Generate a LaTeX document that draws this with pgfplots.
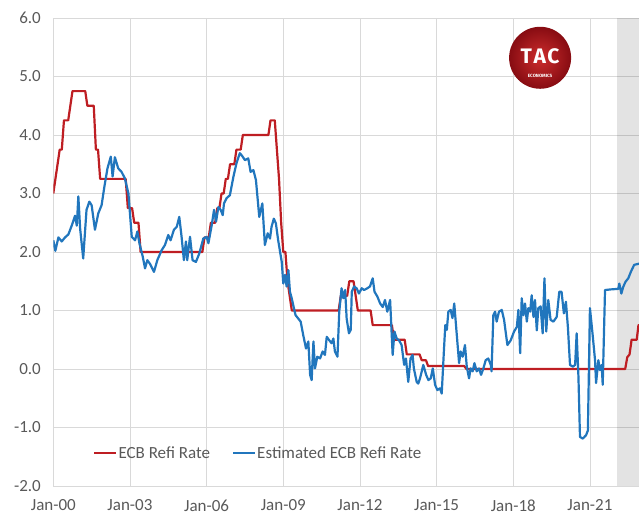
\documentclass[border=0pt]{standalone}
\usepackage{pgfplots}
\pgfplotsset{compat=1.18}
\usepackage{fontspec}
\setmainfont{Carlito}
\newfontfamily\logofont{Fira Sans}

\definecolor{ecbred}{RGB}{190,30,35}
\definecolor{estblue}{RGB}{33,118,189}
\definecolor{labelgray}{RGB}{89,89,89}
\definecolor{gridgray}{RGB}{217,217,217}
\definecolor{logoin}{RGB}{205,45,45}
\definecolor{logoout}{RGB}{135,12,18}

\begin{document}
\begin{tikzpicture}
\useasboundingbox (0,0) rectangle (639bp,516bp);
\begin{axis}[
  at={(53.3bp,30bp)}, anchor=south west,
  scale only axis, width=585.7bp, height=468bp,
  xmin=2000, xmax=2022.92, ymin=-2, ymax=6,
  xtick={2000,2003,2006,2009,2012,2015,2018,2021},
  xticklabels={Jan-00,Jan-03,Jan-06,Jan-09,Jan-12,Jan-15,Jan-18,Jan-21},
  ytick={-2,-1,0,1,2,3,4,5,6},
  yticklabels={-2.0,-1.0,0.0,1.0,2.0,3.0,4.0,5.0,6.0},
  grid=major,
  major grid style={draw=gridgray, line width=0.8bp},
  axis line style={draw=none},
  major tick length=0pt,
  tick label style={font=\fontsize{17bp}{20bp}\selectfont, text=labelgray},
  xticklabel style={yshift=-10bp},
  yticklabel style={xshift=-9bp},
  legend style={at={(0.068,0.07)}, anchor=west, draw=none, fill=none,
    inner sep=0pt, nodes={inner sep=1bp},
    font=\fontsize{17bp}{20bp}\selectfont, text=labelgray,
    /tikz/every even column/.append style={column sep=21bp}},
  legend columns=2,
  legend image code/.code={\draw[#1,line width=2.2bp] (0bp,0bp) -- (22bp,0bp);},
]
% shaded period at the end of the sample
\addplot[draw=none, fill=black, fill opacity=0.11, forget plot]
  coordinates {(2022.07,-2) (2022.07,6) (2022.92,6) (2022.92,-2)} -- cycle;

% ECB main refinancing rate (monthly, change points)
\addplot[ecbred, line width=2.2bp, line join=round] coordinates {
(2000.000,3.00) (2000.083,3.25) (2000.167,3.50) (2000.250,3.75) (2000.333,3.75)
(2000.417,4.25) (2000.583,4.25) (2000.667,4.50) (2000.750,4.75) (2001.250,4.75)
(2001.333,4.50) (2001.583,4.50) (2001.667,3.75) (2001.750,3.75) (2001.833,3.25)
(2002.833,3.25) (2002.917,2.75) (2003.083,2.75) (2003.167,2.50) (2003.333,2.50)
(2003.417,2.00) (2005.833,2.00) (2005.917,2.25) (2006.083,2.25) (2006.167,2.50)
(2006.333,2.50) (2006.417,2.75) (2006.500,2.75) (2006.583,3.00) (2006.667,3.00)
(2006.750,3.25) (2006.833,3.25) (2006.917,3.50) (2007.083,3.50) (2007.167,3.75)
(2007.333,3.75) (2007.417,4.00) (2008.417,4.00) (2008.500,4.25) (2008.667,4.25)
(2008.750,3.75) (2008.833,3.25) (2008.917,2.50) (2009.000,2.00) (2009.083,2.00)
(2009.167,1.50) (2009.250,1.25) (2009.333,1.00) (2011.167,1.00) (2011.250,1.25)
(2011.500,1.25) (2011.583,1.50) (2011.750,1.50) (2011.833,1.25) (2011.917,1.00)
(2012.417,1.00) (2012.500,0.75) (2013.250,0.75) (2013.333,0.50) (2013.750,0.50)
(2013.833,0.25) (2014.333,0.25) (2014.417,0.15) (2014.583,0.15) (2014.667,0.05)
(2016.083,0.05) (2016.167,0.00) (2022.380,0.00) (2022.460,0.20) (2022.550,0.25)
(2022.630,0.50) (2022.830,0.50) (2022.900,0.75) (2022.920,0.75)
};
\addlegendentry{ECB Refi Rate}

% model estimate
\addplot[estblue, line width=2.2bp, line join=round] coordinates {
(2000.00,2.20) (2000.08,2.02) (2000.20,2.25) (2000.33,2.18) (2000.46,2.25)
(2000.59,2.30) (2000.72,2.45) (2000.85,2.62) (2000.92,2.45) (2000.98,2.95)
(2001.05,2.40) (2001.17,1.89) (2001.30,2.72) (2001.41,2.86) (2001.50,2.80)
(2001.63,2.38) (2001.76,2.66) (2001.89,2.80) (2002.00,3.12) (2002.12,3.43)
(2002.25,3.63) (2002.32,3.29) (2002.41,3.62) (2002.54,3.43) (2002.67,3.37)
(2002.80,3.26) (2002.94,3.00) (2003.07,2.26) (2003.20,2.20) (2003.29,2.35)
(2003.37,2.15) (2003.50,1.92) (2003.59,1.72) (2003.68,1.86) (2003.78,1.80)
(2003.94,1.66) (2004.07,1.86) (2004.24,2.03) (2004.37,2.12) (2004.50,2.29)
(2004.59,2.20) (2004.72,2.38) (2004.83,2.43) (2004.93,2.60) (2005.02,2.26)
(2005.11,1.86) (2005.19,2.18) (2005.24,1.86) (2005.35,2.26) (2005.45,1.86)
(2005.58,1.83) (2005.71,1.97) (2005.87,2.23) (2006.00,2.26) (2006.07,2.15)
(2006.20,2.46) (2006.29,2.72) (2006.37,2.52) (2006.46,2.77) (2006.55,2.72)
(2006.63,2.63) (2006.68,2.83) (2006.78,2.92) (2006.91,2.97) (2007.05,3.29)
(2007.17,3.52) (2007.30,3.69) (2007.41,3.63) (2007.50,3.57) (2007.63,3.60)
(2007.72,3.37) (2007.83,3.40) (2007.93,3.23) (2008.06,2.60) (2008.18,2.83)
(2008.28,2.12) (2008.39,2.32) (2008.48,2.23) (2008.54,2.43) (2008.63,2.57)
(2008.71,2.49) (2008.80,2.20) (2008.94,1.83) (2009.00,1.46) (2009.07,1.61)
(2009.13,1.41) (2009.20,1.69) (2009.26,1.32) (2009.33,1.21) (2009.39,1.09)
(2009.48,0.92) (2009.59,0.86) (2009.68,0.81) (2009.78,0.58) (2009.89,0.35)
(2009.98,0.47) (2010.05,-0.10) (2010.11,-0.19) (2010.18,0.47) (2010.24,0.01)
(2010.33,0.21) (2010.44,0.18) (2010.54,0.30) (2010.63,0.24) (2010.70,0.55)
(2010.80,0.49) (2010.89,0.44) (2010.96,0.52) (2011.02,0.30) (2011.12,0.21)
(2011.19,0.98) (2011.28,1.38) (2011.35,1.21) (2011.42,1.35) (2011.48,0.86)
(2011.57,0.61) (2011.64,0.67) (2011.68,1.32) (2011.77,1.41) (2011.87,1.38)
(2011.96,1.29) (2012.07,1.38) (2012.16,1.35) (2012.29,1.38) (2012.39,1.41)
(2012.50,1.55) (2012.57,1.32) (2012.68,1.24) (2012.79,1.12) (2012.89,1.06)
(2012.98,1.18) (2013.07,0.98) (2013.18,1.18) (2013.28,0.24) (2013.35,0.64)
(2013.44,0.52) (2013.53,0.49) (2013.63,0.41) (2013.73,0.07) (2013.80,0.18)
(2013.89,-0.22) (2013.98,0.18) (2014.06,0.24) (2014.11,0.01) (2014.22,-0.22)
(2014.28,-0.25) (2014.35,-0.16) (2014.48,0.07) (2014.59,-0.10) (2014.68,-0.19)
(2014.77,-0.16) (2014.85,0.01) (2014.94,-0.27) (2015.03,-0.36) (2015.13,-0.33)
(2015.20,-0.42) (2015.29,0.35) (2015.34,0.75) (2015.40,0.67) (2015.46,0.98)
(2015.55,1.01) (2015.62,0.87) (2015.69,1.12) (2015.79,0.58) (2015.88,0.10)
(2015.94,0.30) (2016.02,0.21) (2016.11,0.41) (2016.18,0.04) (2016.27,-0.16)
(2016.33,0.01) (2016.41,-0.04) (2016.48,0.10) (2016.57,-0.04) (2016.66,0.01)
(2016.74,-0.10) (2016.83,0.01) (2016.92,0.15) (2017.02,0.18) (2017.12,0.07)
(2017.15,-0.04) (2017.22,0.92) (2017.29,0.98) (2017.35,0.81) (2017.44,0.98)
(2017.55,1.01) (2017.64,0.84) (2017.77,0.41) (2017.90,0.49) (2018.03,0.64)
(2018.14,0.72) (2018.20,1.01) (2018.27,0.27) (2018.33,1.21) (2018.40,0.92)
(2018.46,1.12) (2018.53,0.81) (2018.59,1.04) (2018.66,0.98) (2018.72,1.26)
(2018.79,0.89) (2018.85,1.18) (2018.92,0.66) (2018.98,1.04) (2019.07,1.07)
(2019.15,0.61) (2019.22,1.55) (2019.29,0.64) (2019.37,1.18) (2019.46,0.84)
(2019.57,0.81) (2019.70,0.89) (2019.80,1.32) (2019.89,1.32) (2019.98,0.95)
(2020.06,1.15) (2020.14,0.70) (2020.22,0.07) (2020.33,0.04) (2020.42,0.07)
(2020.48,0.61) (2020.55,-0.13) (2020.61,-1.16) (2020.72,-1.19) (2020.85,-1.13)
(2020.92,-1.05) (2021.00,1.04) (2021.10,0.61) (2021.20,0.15) (2021.24,-0.24)
(2021.33,0.15) (2021.39,-0.02) (2021.46,0.07) (2021.50,-0.27) (2021.59,1.35)
(2021.80,1.36) (2022.11,1.37) (2022.15,1.46) (2022.23,1.29) (2022.30,1.40)
(2022.39,1.49) (2022.50,1.55) (2022.60,1.66) (2022.73,1.78) (2022.92,1.80)
};
\addlegendentry{Estimated ECB Refi Rate}

% company logo
\shade[inner color=logoin, outer color=logoout] (axis cs:2019.05,5.32) circle (31bp);
\node[text=white, inner sep=0pt] at ([yshift=2bp]axis cs:2019.05,5.32)
  {\logofont\bfseries\fontsize{21bp}{21bp}\selectfont T\kern1.5bp A\kern1.5bp C};
\node[text=white, inner sep=0pt] at ([yshift=-18bp]axis cs:2019.05,5.32)
  {\logofont\bfseries\fontsize{4.6bp}{5bp}\selectfont ECONOMICS};
\end{axis}
\end{tikzpicture}
\end{document}
